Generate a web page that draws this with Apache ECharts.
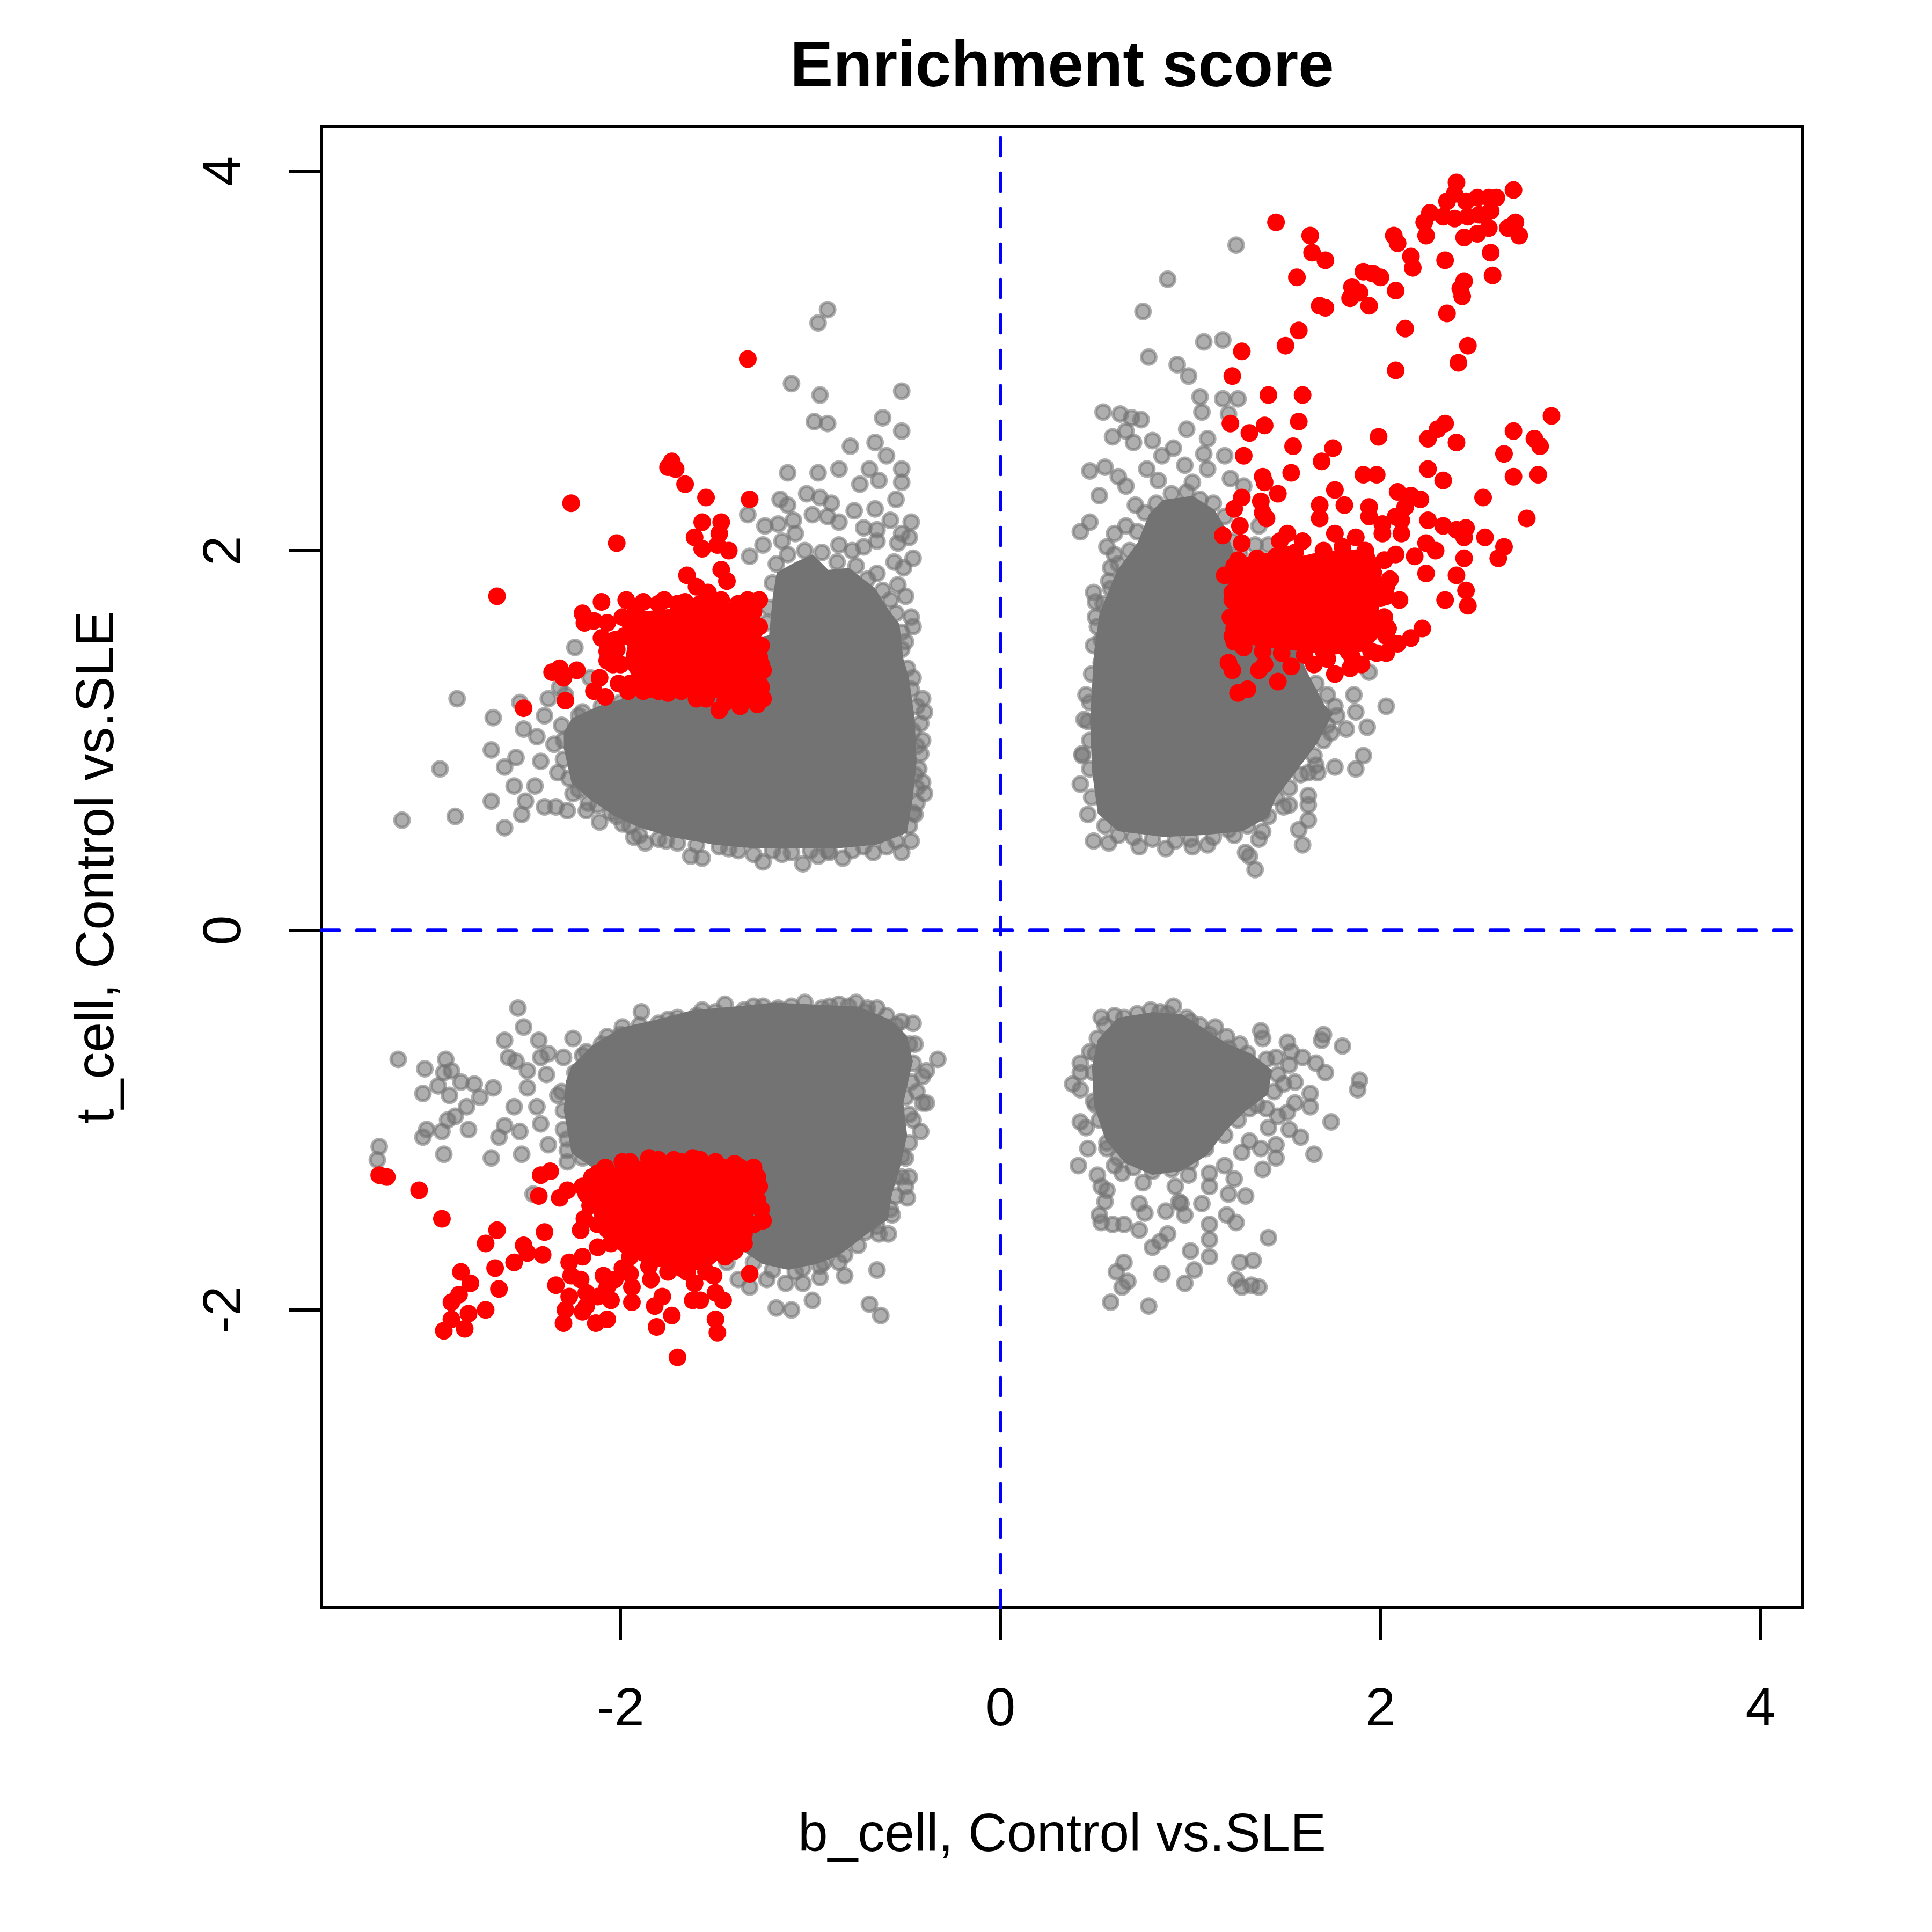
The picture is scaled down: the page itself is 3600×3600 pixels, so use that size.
<!DOCTYPE html>
<html>
<head>
<meta charset="utf-8">
<script src="https://cdn.jsdelivr.net/npm/echarts@6/dist/echarts.min.js"></script>
<style>html,body{margin:0;padding:0;background:#fff;}#chart{width:3600px;height:3600px;}</style>
</head>
<body>
<div id="chart"></div>
<script>
// ---------------- data ----------------
const chartTitle = 'Enrichment score';
const xName = 'b_cell, Control vs.SLE';
const yName = 't_cell, Control vs.SLE';
const xTicks = [-2, 0, 2, 4];
const yTicks = [-2, 0, 2, 4];
const xRange = [-3.574, 4.222];
const yRange = [-3.570, 4.234];

// dense (fully overlapped) regions of the grey cloud, outline vertices [x, y]
const grayDenseUL = [[-2.29,1.04],[-2.25,1.11],[-2.12,1.17],[-1.99,1.21],[-1.90,1.35],[-1.50,1.45],[-1.21,1.55],[-1.19,1.76],[-1.17,1.88],[-1.08,1.93],[-0.99,1.97],[-0.91,1.89],[-0.80,1.90],[-0.67,1.80],[-0.60,1.69],[-0.54,1.61],[-0.52,1.43],[-0.49,1.33],[-0.46,1.11],[-0.45,0.89],[-0.47,0.70],[-0.50,0.52],[-0.65,0.46],[-0.86,0.44],[-1.08,0.44],[-1.30,0.44],[-1.51,0.46],[-1.73,0.50],[-1.90,0.55],[-2.03,0.61],[-2.16,0.70],[-2.25,0.78],[-2.29,0.96]];
const grayDenseUR = [[0.86,2.26],[1.01,2.28],[1.12,2.21],[1.18,2.11],[1.25,1.89],[1.40,1.78],[1.51,1.57],[1.61,1.35],[1.70,1.18],[1.74,1.14],[1.66,0.99],[1.51,0.79],[1.44,0.70],[1.40,0.60],[1.27,0.53],[1.07,0.51],[0.86,0.50],[0.62,0.53],[0.52,0.62],[0.49,0.84],[0.48,1.10],[0.50,1.46],[0.53,1.67],[0.62,1.89],[0.73,2.04],[0.79,2.19]];
const grayDenseLL = [[-2.28,-0.80],[-2.25,-0.72],[-2.14,-0.61],[-1.99,-0.52],[-1.81,-0.48],[-1.62,-0.43],[-1.40,-0.41],[-1.19,-0.39],[-0.97,-0.40],[-0.75,-0.41],[-0.58,-0.48],[-0.50,-0.56],[-0.47,-0.69],[-0.52,-0.91],[-0.50,-1.08],[-0.54,-1.26],[-0.58,-1.39],[-0.60,-1.52],[-0.69,-1.58],[-0.78,-1.65],[-0.86,-1.71],[-0.97,-1.75],[-1.12,-1.78],[-1.25,-1.75],[-1.34,-1.69],[-1.40,-1.56],[-1.73,-1.34],[-1.94,-1.30],[-2.12,-1.26],[-2.25,-1.17],[-2.29,-0.95]];
const grayDenseLR = [[0.52,-0.58],[0.62,-0.47],[0.80,-0.44],[0.95,-0.45],[1.06,-0.52],[1.18,-0.60],[1.32,-0.66],[1.42,-0.74],[1.40,-0.86],[1.28,-0.95],[1.18,-1.05],[1.08,-1.18],[0.95,-1.26],[0.80,-1.28],[0.66,-1.22],[0.56,-1.10],[0.50,-0.92],[0.49,-0.72]];

// dense regions of the red (selected) points
const redDenseUL = [[-1.90,1.67],[-1.68,1.69],[-1.51,1.76],[-1.38,1.69],[-1.30,1.63],[-1.27,1.24],[-1.38,1.21],[-1.55,1.24],[-1.73,1.28],[-1.90,1.29],[-1.97,1.41],[-1.94,1.58]];
const redDenseUR = [[1.27,1.89],[1.44,1.93],[1.66,1.98],[1.83,2.00],[1.96,1.98],[2.00,1.89],[1.98,1.72],[2.00,1.57],[1.92,1.48],[1.75,1.46],[1.57,1.48],[1.40,1.50],[1.27,1.52],[1.23,1.67]];
const redDenseLL = [[-2.05,-1.26],[-1.81,-1.22],[-1.60,-1.22],[-1.38,-1.24],[-1.30,-1.28],[-1.30,-1.43],[-1.32,-1.60],[-1.47,-1.71],[-1.55,-1.78],[-1.73,-1.78],[-1.86,-1.75],[-1.99,-1.69],[-2.10,-1.60],[-2.14,-1.47],[-2.16,-1.34]];

// individual grey points around the dense regions
const grayUL = [[-0.91,3.27],[-0.96,3.20],[-1.10,2.88],[-0.95,2.82],[-0.52,2.84],[-0.98,2.68],[-0.91,2.67],[-0.62,2.70],[-0.52,2.63],[-0.79,2.55],[-0.66,2.57],[-0.60,2.50],[-1.12,2.41],[-0.96,2.41],[-0.85,2.43],[-0.69,2.43],[-0.52,2.43],[-0.64,2.37],[-0.74,2.35],[-0.52,2.36],[-1.02,2.30],[-0.95,2.28],[-0.89,2.25],[-1.16,2.27],[-1.12,2.24],[-0.55,2.27],[-1.33,2.19],[-1.24,2.13],[-1.17,2.14],[-1.09,2.16],[-0.99,2.19],[-0.91,2.18],[-0.85,2.15],[-0.77,2.21],[-0.66,2.22],[-0.58,2.16],[-0.47,2.15],[-0.52,2.09],[-0.65,2.11],[-0.72,2.12],[-0.48,2.07],[-0.54,2.04],[-0.85,2.03],[-0.78,2.00],[-0.65,2.05],[-0.72,2.02],[-0.46,1.96],[-0.56,1.94],[-0.51,1.91],[-0.65,1.88],[-0.54,1.82],[-1.25,2.03],[-1.15,2.05],[-1.08,2.09],[-1.32,1.97],[-0.50,1.76],[-0.47,1.65],[-0.46,1.60],[-0.52,1.48],[-0.46,1.33],[-0.41,1.22],[-0.40,1.15],[-0.42,1.09],[-0.41,1.00],[-0.42,0.93],[-0.43,0.85],[-0.41,0.78],[-0.40,0.72],[-0.44,0.67],[-0.45,0.61],[-0.47,0.47],[-0.52,0.41],[-0.67,0.41],[-0.83,0.38],[-0.96,0.39],[-1.04,0.35],[-1.15,0.40],[-1.25,0.36],[-1.43,0.43],[-1.57,0.38],[-1.63,0.39],[-1.76,0.47],[-1.87,0.46],[-1.93,0.49],[-1.99,0.56],[-2.11,0.57],[-2.05,0.62],[-2.17,0.67],[-2.28,0.63],[-2.34,0.65],[-2.40,0.65],[-2.45,0.76],[-2.52,0.61],[-2.61,0.54],[-2.68,0.68],[-2.87,0.60],[-3.15,0.58],[-2.95,0.85],[-2.68,0.95],[-2.67,1.12],[-2.86,1.22],[-2.53,1.20],[-2.51,1.06],[-2.61,0.86],[-2.56,0.76],[-2.50,0.68],[-2.55,0.91],[-2.42,0.89],[-2.44,1.02],[-2.38,1.22],[-2.32,1.28],[-2.24,1.49],[-2.20,1.15],[-2.16,1.33],[-2.40,1.13],[-2.29,1.24],[-1.30,0.40],[-0.91,0.42],[-2.35,0.98],[-2.33,0.83],[-2.25,0.72],[-2.18,0.63],
  [-1.90,0.50],[-1.80,0.48],[-1.70,0.46],[-1.60,0.45],[-1.48,0.44],[-1.38,0.42],[-1.20,0.42],[-1.10,0.41],[-1.00,0.42],[-0.90,0.41],[-0.78,0.42],[-0.72,0.44],[-0.60,0.44],[-0.55,0.47],[-0.48,0.55],[-0.46,0.62],[-0.44,0.75],[-0.45,0.82],[-0.44,0.97],[-0.46,1.05],[-0.44,1.18],[-0.47,1.27],[-0.49,1.38],[-0.50,1.52],[-0.52,1.57],[-0.55,1.67],[-0.58,1.74],[-0.62,1.79],[-0.70,1.85],[-0.76,1.92],[-0.86,1.94],[-0.94,1.99],[-1.03,2.00],[-1.12,1.98],[-1.18,1.93],[-1.20,1.83],[-1.22,1.70],[-1.23,1.62],[-2.31,1.08],[-2.30,1.00],[-2.30,0.90],[-2.27,0.80],[-2.22,0.74],[-2.12,0.66],[-2.02,0.60],[-1.95,0.55],[-2.22,1.13],[-2.10,1.18],[-2.00,1.20]];
const grayUR = [[1.24,3.61],[0.88,3.43],[0.75,3.26],[1.07,3.10],[1.17,3.11],[0.78,3.02],[0.93,2.98],[0.99,2.92],[1.05,2.81],[1.17,2.80],[1.25,2.80],[1.06,2.73],[1.20,2.72],[0.54,2.73],[0.63,2.72],[0.69,2.70],[0.74,2.69],[0.98,2.64],[0.59,2.60],[0.66,2.63],[1.09,2.59],[0.80,2.58],[0.70,2.57],[0.91,2.54],[1.07,2.51],[1.18,2.50],[0.47,2.42],[0.55,2.44],[0.62,2.39],[0.66,2.34],[0.77,2.43],[0.85,2.50],[0.97,2.45],[1.09,2.43],[1.21,2.38],[1.28,2.34],[0.52,2.29],[0.83,2.37],[1.01,2.36],[0.47,2.15],[0.42,2.10],[0.60,2.09],[0.66,2.13],[0.71,2.24],[0.56,2.02],[0.58,1.91],[0.57,1.84],[0.49,1.78],[0.50,1.73],[0.50,1.65],[0.53,1.53],[0.53,1.41],[0.45,1.24],[0.46,1.10],[0.43,0.93],[0.42,0.77],[1.34,2.03],[1.41,2.03],[1.36,2.13],[2.03,1.18],[1.93,1.07],[1.87,1.15],[1.91,0.92],[1.87,0.85],[1.76,0.86],[1.82,1.06],[1.74,1.04],[1.77,1.13],[1.86,1.24],[1.94,1.36],[1.66,0.87],[1.62,0.83],[1.62,0.71],[1.62,0.66],[1.62,0.58],[1.57,0.53],[1.59,0.45],[1.52,0.66],[1.49,0.65],[1.41,0.60],[1.38,0.52],[1.36,0.48],[1.29,0.41],[1.31,0.39],[1.34,0.32],[1.23,0.50],[1.09,0.45],[1.01,0.44],[0.87,0.43],[0.73,0.44],[0.57,0.46],[0.49,0.47],[0.46,0.61],[0.43,0.92],[0.44,1.11],[1.67,0.83],[0.60,1.98],[0.66,1.78],[0.57,1.57],[0.64,1.35],
  [0.48,0.70],[0.47,0.85],[0.47,1.00],[0.47,1.20],[0.48,1.35],[0.49,1.50],[0.51,1.60],[0.54,1.72],[0.58,1.80],[0.62,1.93],[0.68,2.00],[0.72,2.10],[0.76,2.20],[0.82,2.25],[0.90,2.30],[0.98,2.31],[1.05,2.27],[1.12,2.25],[1.18,2.18],[1.22,2.05],[1.26,1.98],[0.55,0.55],[0.62,0.50],[0.70,0.49],[0.80,0.48],[0.92,0.47],[1.00,0.48],[1.12,0.49],[1.20,0.53],[1.30,0.55],[1.38,0.62],[1.45,0.70],[1.52,0.75],[1.58,0.82],[1.65,0.92],[1.70,1.00],[1.72,1.08],[1.76,1.18],[1.72,1.24],[1.66,1.30]];
const grayLR = [[0.53,-0.46],[0.65,-0.46],[0.79,-0.42],[0.84,-0.43],[0.91,-0.40],[0.98,-0.46],[1.05,-0.50],[1.13,-0.51],[1.19,-0.56],[1.26,-0.60],[1.37,-0.53],[1.38,-0.57],[1.51,-0.59],[1.70,-0.55],[1.69,-0.58],[1.80,-0.61],[1.53,-0.64],[1.59,-0.67],[1.45,-0.67],[1.66,-0.70],[1.71,-0.75],[1.52,-0.71],[1.89,-0.79],[1.88,-0.84],[1.55,-0.80],[1.63,-0.86],[1.63,-0.93],[1.55,-0.91],[1.51,-0.96],[1.46,-0.98],[1.52,-1.05],[1.41,-1.04],[1.58,-1.09],[1.74,-1.01],[1.65,-1.18],[1.45,-1.13],[1.45,-1.20],[1.37,-1.15],[1.38,-1.26],[1.23,-1.31],[1.20,-1.39],[1.29,-1.40],[1.10,-1.35],[1.06,-1.44],[0.97,-1.50],[0.95,-1.44],[1.10,-1.55],[1.10,-1.63],[1.10,-1.72],[1.19,-1.50],[1.24,-1.54],[1.41,-1.62],[1.26,-1.75],[1.33,-1.74],[1.24,-1.84],[1.27,-1.88],[1.32,-1.87],[1.36,-1.88],[1.00,-1.69],[1.02,-1.79],[0.97,-1.86],[0.85,-1.81],[0.78,-1.98],[0.58,-1.96],[0.61,-1.80],[0.65,-1.75],[0.67,-1.85],[0.64,-1.88],[0.80,-1.67],[0.84,-1.64],[0.88,-1.60],[0.73,-1.58],[0.65,-1.55],[0.52,-1.50],[0.53,-1.54],[0.59,-1.55],[0.55,-1.43],[0.56,-1.37],[0.51,-1.29],[0.53,-1.35],[0.41,-1.24],[0.46,-1.15],[0.42,-1.01],[0.45,-1.04],[0.50,-0.92],[0.42,-0.84],[0.38,-0.81],[0.42,-0.75],[0.42,-0.70],[0.47,-0.64],[0.51,-0.57],[0.73,-1.44],[0.76,-1.49],[0.87,-1.48],[0.94,-1.43],[0.92,-1.35],[0.99,-1.29],[1.10,-1.28],[1.18,-1.24],[1.27,-1.17],[1.31,-1.11],[0.75,-1.33],[0.64,-1.28],[0.60,-1.24],[0.56,-1.15],[1.49,-0.81],[1.40,-0.94],[1.31,-0.94],
  [0.55,-0.50],[0.60,-0.45],[0.72,-0.44],[0.88,-0.44],[1.00,-0.48],[1.10,-0.55],[1.20,-0.62],[1.30,-0.65],[1.40,-0.68],[1.46,-0.76],[1.44,-0.85],[1.35,-0.92],[1.25,-1.00],[1.18,-1.08],[1.08,-1.15],[1.00,-1.22],[0.90,-1.26],[0.80,-1.27],[0.70,-1.25],[0.62,-1.20],[0.56,-1.12],[0.52,-1.00],[0.49,-0.90],[0.49,-0.75],[0.50,-0.65]];
const grayLL = [[-2.54,-0.41],[-2.51,-0.51],[-1.89,-0.43],[-2.61,-0.58],[-2.43,-0.58],[-2.25,-0.57],[-3.17,-0.68],[-3.03,-0.73],[-2.92,-0.68],[-2.93,-0.75],[-2.89,-0.74],[-2.84,-0.80],[-2.77,-0.81],[-2.67,-0.83],[-2.74,-0.88],[-3.04,-0.86],[-2.96,-0.82],[-2.90,-0.87],[-2.81,-0.93],[-2.87,-0.98],[-2.91,-1.00],[-3.02,-1.05],[-3.04,-1.09],[-2.94,-1.06],[-2.80,-1.05],[-2.93,-1.18],[-2.68,-1.20],[-3.27,-1.14],[-3.28,-1.21],[-2.64,-1.09],[-2.61,-1.03],[-2.56,-0.93],[-2.53,-1.06],[-2.52,-1.18],[-2.59,-0.67],[-2.55,-0.69],[-2.49,-0.74],[-2.49,-0.83],[-2.44,-0.93],[-2.42,-0.67],[-2.38,-0.65],[-2.30,-0.67],[-2.39,-0.76],[-2.33,-0.87],[-2.42,-1.02],[-2.38,-1.13],[-2.28,-1.16],[-2.28,-1.22],[-2.46,-1.39],[-2.18,-0.64],[-2.07,-0.56],[-1.99,-0.51],[-1.75,-0.47],[-1.57,-0.42],[-1.45,-0.39],[-1.25,-0.40],[-1.17,-0.41],[-1.03,-0.38],[-0.94,-0.41],[-0.85,-0.39],[-0.76,-0.38],[-0.65,-0.41],[-0.71,-0.43],[-0.52,-0.48],[-0.46,-0.49],[-0.45,-0.60],[-0.33,-0.68],[-0.39,-0.74],[-0.41,-0.77],[-0.44,-0.85],[-0.41,-0.91],[-0.39,-0.91],[-0.42,-1.06],[-0.46,-1.00],[-0.52,-1.19],[-0.48,-1.30],[-0.50,-1.35],[-0.49,-1.41],[-0.58,-1.47],[-0.59,-1.60],[-0.65,-1.56],[-0.71,-1.59],[-0.65,-1.79],[-0.82,-1.82],[-0.82,-1.71],[-0.95,-1.83],[-0.88,-1.67],[-0.99,-1.95],[-0.69,-1.97],[-0.63,-2.03],[-1.18,-1.99],[-1.10,-2.00],[-1.04,-1.86],[-1.13,-1.86],[-1.23,-1.84],[-1.32,-1.88],[-1.38,-1.84],[-1.44,-1.75],[-1.04,-1.78],[-0.93,-1.75],[-0.83,-1.56],[-0.56,-1.30],
  [-2.20,-0.66],[-2.10,-0.60],[-2.00,-0.55],[-1.90,-0.50],[-1.80,-0.49],[-1.70,-0.46],[-1.60,-0.45],[-1.50,-0.43],[-1.35,-0.42],[-1.30,-0.40],[-1.10,-0.40],[-0.90,-0.40],[-0.80,-0.40],[-0.70,-0.41],[-0.60,-0.45],[-0.55,-0.50],[-0.48,-0.60],[-0.46,-0.70],[-0.47,-0.80],[-0.50,-0.88],[-0.48,-0.97],[-0.48,-1.12],[-0.50,-1.20],[-0.52,-1.30],[-0.55,-1.40],[-0.57,-1.50],[-0.64,-1.60],[-0.75,-1.66],[-0.85,-1.75],[-0.95,-1.77],[-1.08,-1.80],[-1.20,-1.79],[-1.30,-1.75],[-2.31,-0.85],[-2.30,-0.95],[-2.30,-1.05],[-2.28,-1.10],[-2.24,-0.75],[-2.20,-1.20]];

// individual red points
const redUL = [[-1.33,3.01],[-1.73,2.47],[-1.75,2.44],[-1.71,2.43],[-1.66,2.35],[-2.26,2.25],[-1.55,2.28],[-1.32,2.27],[-2.02,2.04],[-1.57,2.15],[-1.47,2.15],[-1.61,2.07],[-1.48,2.09],[-1.57,2.01],[-1.49,2.03],[-1.43,2.00],[-1.65,1.87],[-1.47,1.90],[-1.44,1.84],[-1.60,1.81],[-1.54,1.78],[-2.65,1.76],[-2.10,1.73],[-1.97,1.74],[-1.88,1.73],[-1.77,1.74],[-1.66,1.73],[-1.27,1.74],[-1.33,1.74],[-2.20,1.67],[-2.14,1.63],[-2.19,1.62],[-2.07,1.62],[-1.99,1.65],[-1.37,1.67],[-1.30,1.57],[-2.10,1.54],[-2.03,1.53],[-1.94,1.54],[-1.26,1.50],[-2.07,1.47],[-2.02,1.48],[-1.92,1.47],[-1.27,1.44],[-2.04,1.40],[-2.07,1.42],[-2.36,1.36],[-2.32,1.38],[-2.23,1.37],[-2.30,1.33],[-1.25,1.37],[-2.11,1.33],[-2.14,1.26],[-2.08,1.23],[-2.29,1.21],[-2.51,1.17],[-2.01,1.30],[-1.96,1.26],[-1.88,1.26],[-1.80,1.26],[-1.68,1.26],[-1.55,1.22],[-1.48,1.16],[-1.37,1.18],[-1.28,1.19],[-1.25,1.22],[-1.26,1.28],[-1.43,1.22],
  [-1.92,1.70],[-1.80,1.72],[-1.70,1.72],[-1.58,1.72],[-1.47,1.74],[-1.38,1.72],[-1.30,1.68],[-1.27,1.60],[-1.26,1.40],[-1.27,1.30],[-1.33,1.22],[-1.45,1.20],[-1.60,1.22],[-1.75,1.25],[-1.85,1.27],[-1.95,1.30],[-2.00,1.40],[-1.98,1.55],[-1.95,1.62]];
const redUR = [[2.40,3.94],[2.39,3.88],[2.70,3.90],[2.35,3.84],[2.45,3.84],[2.51,3.86],[2.57,3.86],[2.61,3.86],[2.26,3.78],[2.23,3.73],[2.33,3.76],[2.39,3.75],[2.46,3.76],[2.52,3.77],[2.58,3.79],[2.57,3.70],[2.51,3.67],[2.44,3.65],[2.71,3.73],[2.67,3.70],[2.73,3.66],[2.24,3.66],[1.45,3.73],[1.63,3.66],[1.64,3.57],[1.71,3.53],[2.07,3.66],[2.09,3.62],[2.16,3.55],[2.17,3.49],[2.34,3.53],[2.58,3.57],[2.59,3.45],[1.91,3.47],[1.96,3.46],[2.00,3.44],[1.56,3.44],[1.85,3.39],[1.84,3.33],[1.89,3.36],[1.94,3.29],[2.08,3.37],[2.44,3.42],[2.42,3.38],[2.43,3.34],[1.68,3.29],[1.71,3.28],[2.35,3.25],[2.13,3.17],[1.57,3.16],[1.50,3.08],[2.46,3.08],[2.41,2.99],[2.08,2.95],[1.27,3.05],[1.22,2.92],[1.41,2.82],[1.59,2.82],[1.57,2.68],[1.21,2.67],[1.39,2.66],[1.31,2.62],[2.90,2.71],[2.34,2.67],[2.30,2.64],[2.25,2.59],[2.40,2.57],[1.99,2.60],[2.70,2.63],[2.81,2.59],[2.84,2.55],[2.65,2.51],[1.54,2.55],[1.75,2.54],[1.28,2.50],[1.69,2.47],[1.53,2.41],[2.25,2.43],[2.33,2.37],[2.70,2.39],[2.83,2.40],[1.91,2.40],[1.98,2.40],[1.38,2.39],[1.39,2.36],[1.46,2.30],[1.76,2.32],[1.27,2.28],[1.37,2.26],[2.09,2.31],[2.16,2.29],[2.21,2.27],[2.54,2.28],[1.23,2.22],[1.68,2.24],[1.81,2.24],[1.94,2.23],[2.13,2.23],[1.38,2.20],[1.40,2.17],[1.68,2.17],[1.94,2.18],[2.08,2.18],[2.11,2.16],[2.25,2.16],[2.77,2.17],[1.26,2.13],[2.01,2.14],[2.33,2.13],[2.40,2.11],[2.45,2.12],[1.17,2.08],[1.27,2.04],[1.51,2.09],[1.76,2.09],[1.87,2.07],[2.01,2.09],[2.11,2.09],[2.44,2.07],[2.55,2.07],[2.65,2.02],[2.62,1.96],[1.47,2.05],[1.59,2.05],[2.24,2.04],[2.29,2.00],[2.18,1.97],[2.08,1.98],[2.44,1.96],[2.24,1.88],[2.40,1.87],[1.51,1.98],[1.40,1.94],[1.30,1.92],[1.23,1.92],[1.18,1.87],[2.45,1.79],[2.46,1.71],[2.34,1.74],[2.10,1.74],[2.22,1.59],[2.16,1.54],[2.03,1.81],[2.03,1.46],[2.09,1.51],[1.22,1.74],[1.23,1.59],[1.23,1.52],[1.20,1.41],[1.22,1.37],[1.25,1.25],[1.30,1.27],[1.36,1.37],[1.39,1.40],[1.46,1.31],[1.53,1.39],[1.65,1.40],[1.76,1.35],[1.84,1.38],[1.90,1.40],[1.98,1.46],[1.83,1.47],[1.70,1.47],[1.62,1.52],[1.94,1.57],[2.04,1.59],[1.87,1.67],[1.95,1.78],[2.03,1.76],[1.87,1.96],[1.94,1.92],[1.75,1.91],[1.62,1.93],[1.36,1.73],[1.35,1.59],
  [1.25,1.95],[1.35,1.96],[1.45,1.97],[1.55,1.99],[1.70,2.00],[1.80,2.02],[1.92,2.00],[2.02,1.95],[2.05,1.85],[2.00,1.75],[2.02,1.65],[2.03,1.55],[1.95,1.47],[1.85,1.44],[1.72,1.43],[1.60,1.45],[1.48,1.46],[1.38,1.47],[1.28,1.49],[1.22,1.55],[1.21,1.65],[1.22,1.78],[1.24,1.85]];
const redLL = [[-3.27,-1.29],[-3.23,-1.30],[-3.06,-1.37],[-2.94,-1.52],[-2.65,-1.58],[-2.71,-1.65],[-2.40,-1.59],[-2.51,-1.66],[-2.49,-1.70],[-2.41,-1.71],[-2.56,-1.75],[-2.66,-1.78],[-2.84,-1.80],[-2.79,-1.86],[-2.64,-1.89],[-2.85,-1.92],[-2.89,-1.96],[-2.71,-2.00],[-2.80,-2.02],[-2.89,-2.05],[-2.82,-2.10],[-2.93,-2.11],[-2.42,-1.29],[-2.37,-1.27],[-2.43,-1.40],[-2.32,-1.41],[-2.28,-1.37],[-2.20,-1.35],[-2.15,-1.30],[-2.18,-1.39],[-1.99,-1.22],[-1.89,-1.26],[-1.80,-1.21],[-1.68,-1.22],[-1.58,-1.21],[-1.46,-1.25],[-1.37,-1.25],[-1.28,-1.30],[-1.26,-1.47],[-1.25,-1.53],[-1.35,-1.60],[-1.40,-1.69],[-1.32,-1.81],[-2.19,-1.52],[-2.21,-1.58],[-2.12,-1.67],[-2.27,-1.75],[-2.20,-1.72],[-2.26,-1.82],[-2.34,-1.87],[-2.21,-1.84],[-2.09,-1.82],[-2.03,-1.84],[-1.95,-1.81],[-1.94,-1.88],[-2.07,-1.88],[-2.27,-1.93],[-2.18,-1.91],[-2.12,-1.93],[-2.05,-1.95],[-1.94,-1.96],[-1.84,-1.84],[-1.78,-1.93],[-1.82,-1.98],[-2.29,-2.00],[-2.30,-2.07],[-2.20,-2.01],[-2.13,-2.07],[-2.07,-2.05],[-2.18,-1.98],[-1.73,-2.03],[-1.81,-2.09],[-1.70,-2.25],[-1.62,-1.95],[-1.58,-1.95],[-1.50,-1.91],[-1.46,-1.95],[-1.50,-2.05],[-1.49,-2.12],[-1.61,-1.86],[-1.51,-1.82],[-1.68,-1.78],[-1.99,-1.78],
  [-2.08,-1.25],[-1.95,-1.22],[-1.85,-1.20],[-1.72,-1.21],[-1.62,-1.20],[-1.50,-1.22],[-1.40,-1.23],[-1.30,-1.25],[-1.27,-1.35],[-1.28,-1.42],[-1.30,-1.55],[-1.35,-1.65],[-1.45,-1.72],[-1.55,-1.80],[-1.65,-1.80],[-1.75,-1.80],[-1.85,-1.77],[-1.95,-1.72],[-2.05,-1.65],[-2.12,-1.55],[-2.16,-1.45],[-2.17,-1.35],[-2.12,-1.28]];

// ---------------- chart ----------------
const FONT = '"Liberation Sans", Arial, Helvetica, sans-serif';
const GREY = '#737373';

function blobSeries(name, blobs, color) {
  return {
    name: name,
    type: 'custom',
    coordinateSystem: 'cartesian2d',
    silent: true,
    clip: true,
    data: blobs.map(function (b, i) { return [b[0][0], b[0][1], i]; }),
    encode: { x: 0, y: 1 },
    renderItem: function (params, api) {
      const poly = blobs[api.value(2)];
      return {
        type: 'polygon',
        shape: { points: poly.map(function (p) { return api.coord(p); }) },
        style: { fill: color, stroke: color, lineWidth: 6 }
      };
    }
  };
}

const chart = echarts.init(document.getElementById('chart'), null, { renderer: 'canvas', width: 3600, height: 3600 });
chart.setOption({
  animation: false,
  backgroundColor: '#ffffff',
  title: {
    text: chartTitle,
    left: 1979,
    top: 68,
    textAlign: 'center',
    padding: 0,
    textStyle: { fontFamily: FONT, fontSize: 120, fontWeight: 'bold', color: '#000', lineHeight: 120 }
  },
  grid: {
    left: 599, top: 236, width: 2760, height: 2760,
    show: true, borderColor: '#000', borderWidth: 6, backgroundColor: 'transparent'
  },
  xAxis: {
    type: 'value', min: xRange[0], max: xRange[1],
    name: xName, nameLocation: 'middle', nameGap: 375,
    nameTextStyle: { fontFamily: FONT, fontSize: 100, color: '#000', lineHeight: 100 },
    axisLine: { show: false, onZero: false },
    splitLine: { show: false },
    axisTick: { show: true, customValues: xTicks, length: 60, lineStyle: { color: '#000', width: 6 } },
    axisLabel: { customValues: xTicks, margin: 141, fontFamily: FONT, fontSize: 100, color: '#000', lineHeight: 100 }
  },
  yAxis: {
    type: 'value', min: yRange[0], max: yRange[1],
    name: yName, nameLocation: 'middle', nameGap: 366, nameRotate: 90,
    nameTextStyle: { fontFamily: FONT, fontSize: 100, color: '#000', lineHeight: 100 },
    axisLine: { show: false, onZero: false },
    splitLine: { show: false },
    axisTick: { show: true, customValues: yTicks, length: 60, lineStyle: { color: '#000', width: 6 } },
    axisLabel: { customValues: yTicks, rotate: 90, margin: 129, fontFamily: FONT, fontSize: 100, color: '#000', lineHeight: 100 }
  },
  series: [
    blobSeries('grey dense', [grayDenseUL, grayDenseUR, grayDenseLL, grayDenseLR], GREY),
    {
      name: 'grey', type: 'scatter', silent: true,
      symbol: 'circle', symbolSize: 27,
      itemStyle: { color: GREY, borderColor: GREY, borderWidth: 6, opacity: 0.58 },
      data: grayUL.concat(grayUR, grayLR, grayLL)
    },
    blobSeries('red dense', [redDenseUL, redDenseUR, redDenseLL], '#ff0000'),
    {
      name: 'red', type: 'scatter', silent: true,
      symbol: 'circle', symbolSize: 33,
      itemStyle: { color: '#ff0000', opacity: 1 },
      data: redUL.concat(redUR, redLL)
    },
    {
      name: 'zero lines', type: 'scatter', data: [], silent: true,
      markLine: {
        silent: true, symbol: ['none', 'none'], label: { show: false },
        lineStyle: { color: '#0000ff', width: 6.5, type: [33, 33], cap: 'round', opacity: 1 },
        emphasis: { disabled: true },
        data: [{ xAxis: 0 }, { yAxis: 0 }]
      }
    }
  ]
});
</script>
</body>
</html>
